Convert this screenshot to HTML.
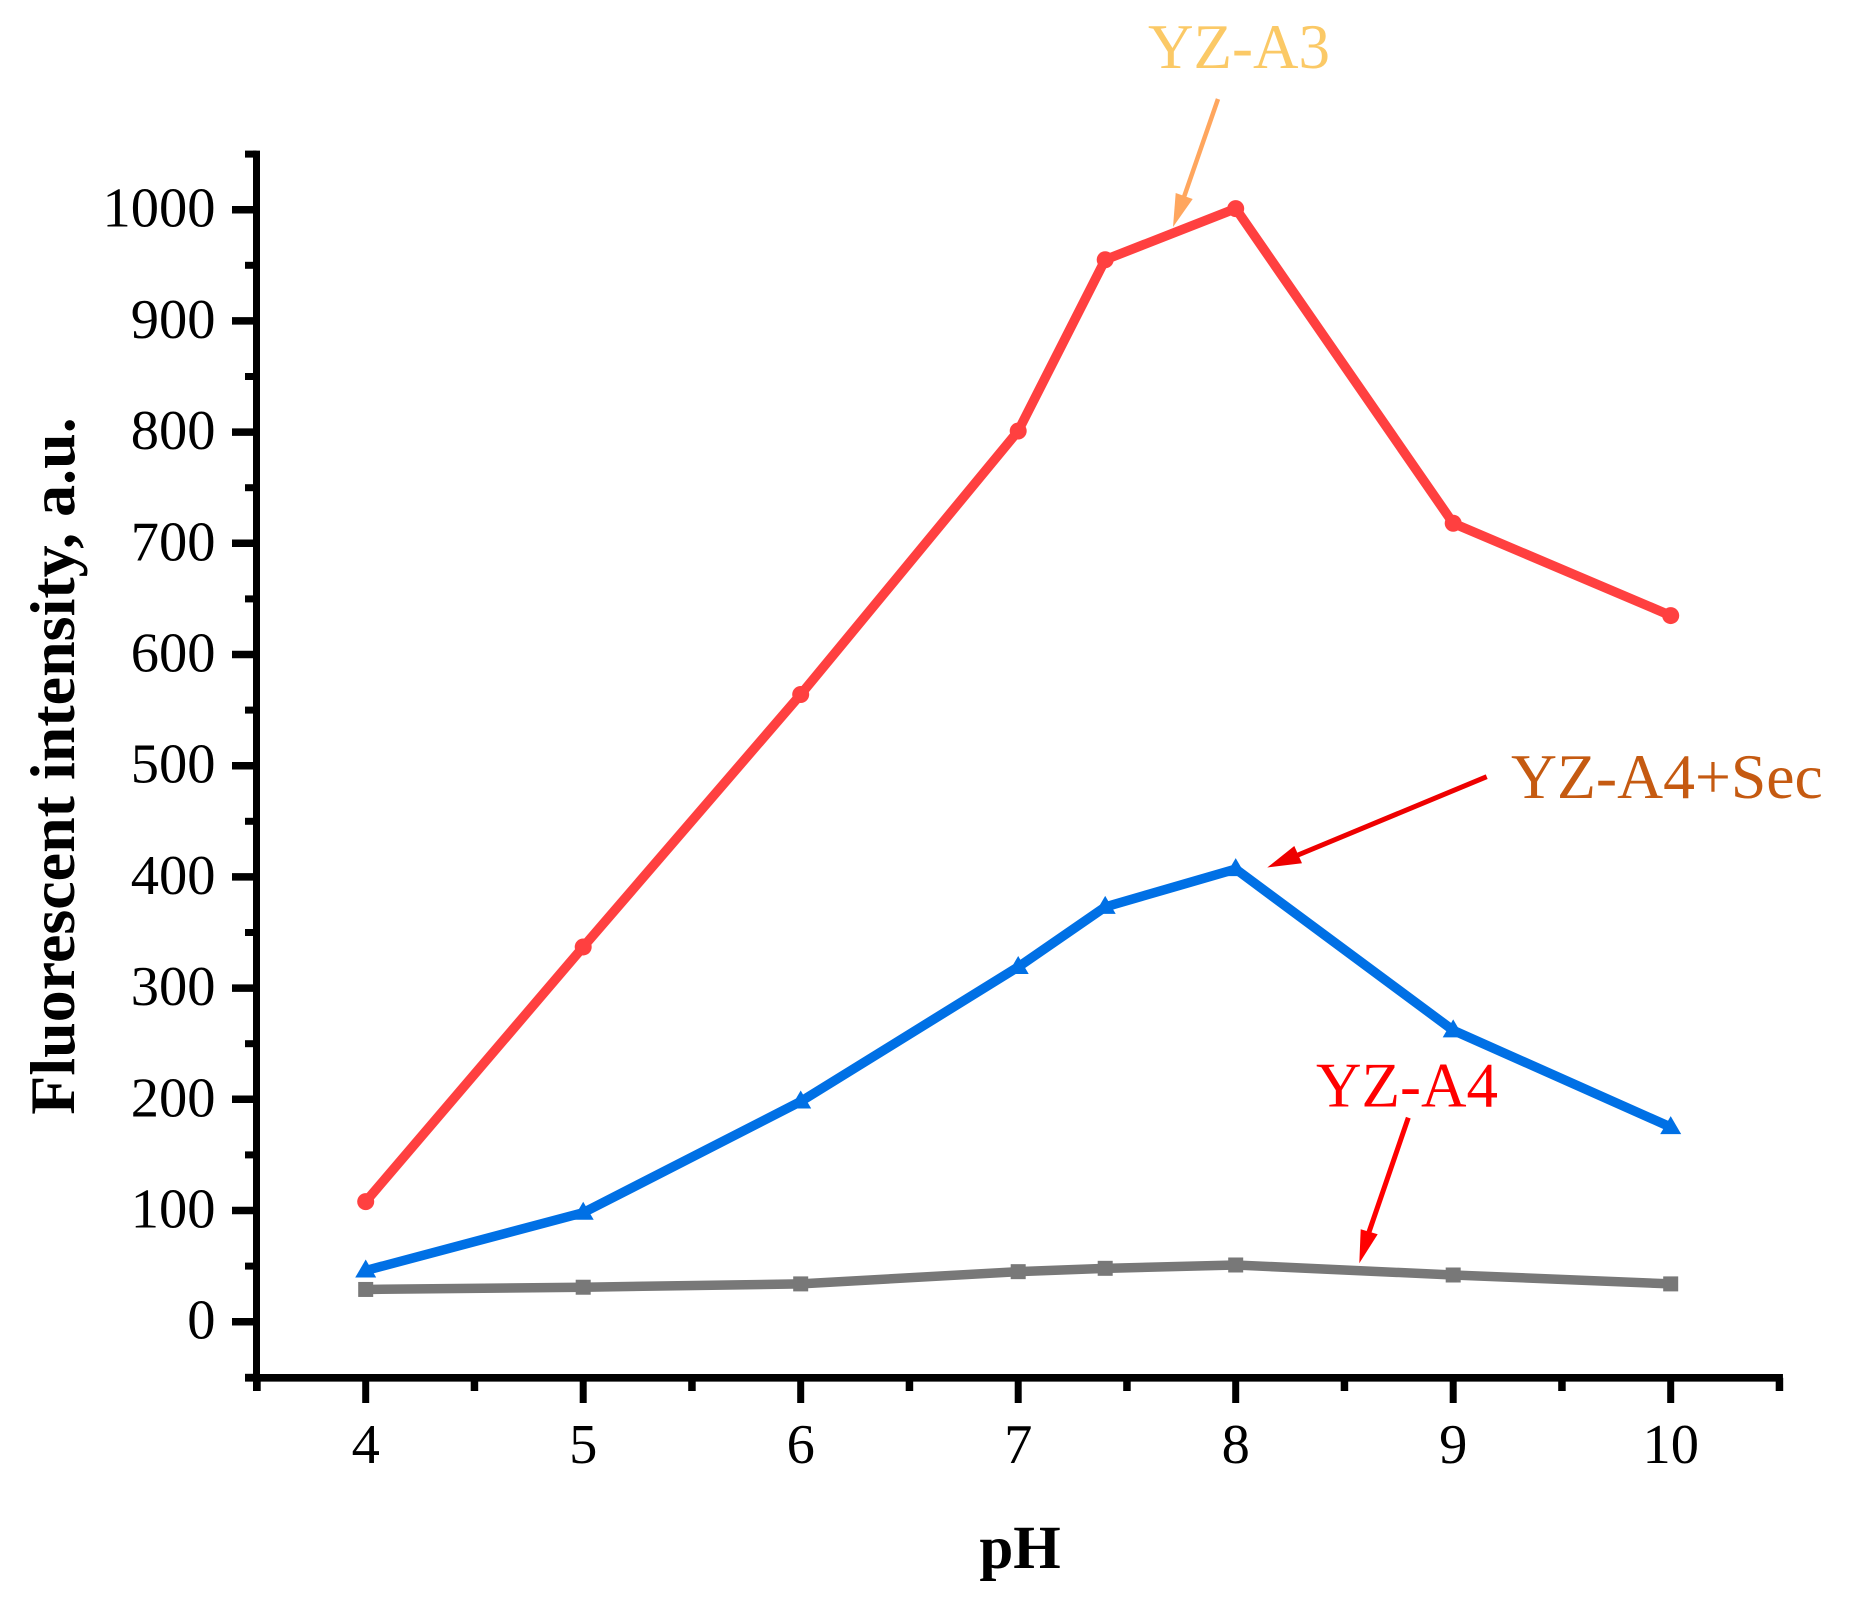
<!DOCTYPE html>
<html lang="en">
<head>
<meta charset="utf-8">
<title>Fluorescent intensity vs pH</title>
<style>
html,body{margin:0;padding:0;background:#fff;}
svg{display:block;font-family:"Liberation Serif",serif;}
</style>
</head>
<body>
<svg id="chart" xmlns="http://www.w3.org/2000/svg" width="1849" height="1599" viewBox="0 0 1849 1599">
  <rect x="0" y="0" width="1849" height="1599" fill="#fff"/>
  <g id="axes"></g>
  <g id="series"></g>
  <text transform="translate(74,766) rotate(-90)" text-anchor="middle" font-weight="bold" font-size="64">Fluorescent intensity, a.u.</text>
  <text x="1020" y="1568" text-anchor="middle" font-weight="bold" font-size="61">pH</text>

  <text x="1148" y="68" font-size="63" fill="#FBC966">YZ-A3</text>
  <g>
    <line x1="1218" y1="99" x2="1184" y2="197" stroke="#FFA65E" stroke-width="4.5"/>
    <polygon points="1173,227 1175.7,193 1192.7,199" fill="#FFA65E"/>
  </g>

  <text x="1511" y="798" font-size="63.7" fill="#C55A11">YZ-A4+Sec</text>
  <g>
    <line x1="1486.7" y1="776.7" x2="1298" y2="855" stroke="#EE0000" stroke-width="5"/>
    <polygon points="1267.3,867.5 1294.3,846 1302,863.3" fill="#EE0000"/>
  </g>

  <text x="1316" y="1106.7" font-size="63" fill="#FF0000">YZ-A4</text>
  <g>
    <line x1="1408.3" y1="1117.7" x2="1369" y2="1232" stroke="#FF0000" stroke-width="5"/>
    <polygon points="1359.3,1263.3 1360.7,1229.3 1377.7,1234.3" fill="#FF0000"/>
  </g>
</svg>
<script>
const categories = [4, 5, 6, 7, 7.4, 8, 9, 10];
const yzA3Values = [108, 337, 564, 801, 955, 1001, 718, 635];
const yzA4SecValues = [46, 98, 198, 319, 373, 407, 262, 175];
const yzA4Values = [29, 31, 34, 45, 48, 51, 42, 34];
const xTickLabels = [4, 5, 6, 7, 8, 9, 10];
const xMinorTicks = [3.5, 4.5, 5.5, 6.5, 7.5, 8.5, 9.5, 10.5];
const yTickLabels = [0, 100, 200, 300, 400, 500, 600, 700, 800, 900, 1000];
const yMinorTicks = [-50, 50, 150, 250, 350, 450, 550, 650, 750, 850, 950, 1050];

const NS = 'http://www.w3.org/2000/svg';
function xScale(v) { return 365.7 + (v - 4) * 217.5; }
function yScale(v) { return 1321.7 - v * 1.112; }

function make(tag, attrs, parent) {
  const el = document.createElementNS(NS, tag);
  for (const k in attrs) el.setAttribute(k, attrs[k]);
  parent.appendChild(el);
  return el;
}

const axes = document.getElementById('axes');
const seriesGroup = document.getElementById('series');
const spineX = 256.5;
const spineY = 1377.8;

const ySpine = make('line', {x1: spineX, x2: spineX, y1: yScale(1050) - 3.5, y2: 1391, stroke: '#000', 'stroke-width': 7}, axes);



const xSpine = make('line', {x1: 245, x2: xScale(10.5) + 3.5, y1: spineY, y2: spineY, stroke: '#000', 'stroke-width': 7.6}, axes);



yTickLabels.forEach(function (v) {
  const t = make('line', {x1: 232, x2: spineX, y1: yScale(v), y2: yScale(v), stroke: '#000', 'stroke-width': 7.5}, axes);
  
  
  const l = make('text', {x: 215.5, y: yScale(v) + 17, 'text-anchor': 'end', 'font-size': 56.5, fill: '#000'}, axes);
  l.textContent = v;
  
  
});
yMinorTicks.forEach(function (v) {
  const t = make('line', {x1: 245, x2: spineX, y1: yScale(v), y2: yScale(v), stroke: '#000', 'stroke-width': 7}, axes);
  
  
});
xTickLabels.forEach(function (v) {
  const t = make('line', {x1: xScale(v), x2: xScale(v), y1: spineY, y2: 1403, stroke: '#000', 'stroke-width': 7}, axes);
  
  
  const l = make('text', {x: xScale(v), y: 1463, 'text-anchor': 'middle', 'font-size': 56.5, fill: '#000'}, axes);
  l.textContent = v;
  
  
});
xMinorTicks.forEach(function (v) {
  const t = make('line', {x1: xScale(v), x2: xScale(v), y1: spineY, y2: 1391, stroke: '#000', 'stroke-width': 7.5}, axes);
  
  
});

function linePoints(values) {
  return values.map(function (v, i) { return xScale(categories[i]) + ',' + yScale(v); }).join(' ');
}

const lineGray = make('polyline', {points: linePoints(yzA4Values), fill: 'none', stroke: '#787878', 'stroke-width': 9.5, 'stroke-linejoin': 'miter'}, seriesGroup);


yzA4Values.forEach(function (v, i) {
  const cx = xScale(categories[i]), cy = yScale(v);
  const m = make('rect', {x: cx - 7.5, y: cy - 7.5, width: 15, height: 15, fill: '#787878'}, seriesGroup);
  
  
});

const lineBlue = make('polyline', {points: linePoints(yzA4SecValues), fill: 'none', stroke: '#0070E5', 'stroke-width': 9.5, 'stroke-linejoin': 'miter'}, seriesGroup);


yzA4SecValues.forEach(function (v, i) {
  const cx = xScale(categories[i]), cy = yScale(v);
  const m = make('polygon', {points: (cx - 10.5) + ',' + (cy + 7) + ' ' + (cx + 10.5) + ',' + (cy + 7) + ' ' + cx + ',' + (cy - 11), fill: '#0070E5'}, seriesGroup);
  
  
});

const lineRed = make('polyline', {points: linePoints(yzA3Values), fill: 'none', stroke: '#FF4040', 'stroke-width': 9.5, 'stroke-linejoin': 'miter'}, seriesGroup);


yzA3Values.forEach(function (v, i) {
  const cx = xScale(categories[i]), cy = yScale(v);
  const m = make('circle', {cx: cx, cy: cy, r: 8.5, fill: '#FF4040'}, seriesGroup);
  
  
});
</script>
</body>
</html>
